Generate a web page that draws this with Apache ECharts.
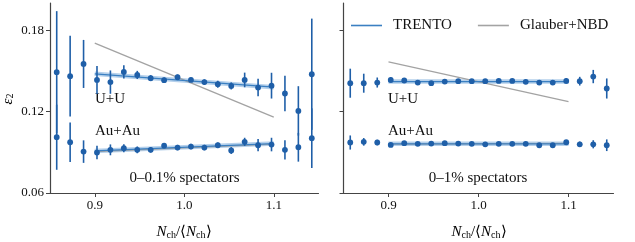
<!DOCTYPE html>
<html>
<head>
<meta charset="utf-8">
<script src="https://cdn.jsdelivr.net/npm/echarts@6/dist/echarts.min.js"></script>
<style>html,body{margin:0;padding:0;background:#fff}#c{width:635px;height:242px}</style>
</head>
<body>
<div id="c"></div>
<script>
// ---- data ----
const binCenters = [0.8575, 0.8725, 0.8875, 0.9025, 0.9175, 0.9325, 0.9475, 0.9625, 0.9775, 0.9925,
                    1.0075, 1.0225, 1.0375, 1.0525, 1.0675, 1.0825, 1.0975, 1.1125, 1.1275, 1.1425];
// left panel: 0-0.1% spectators
const leftUU    = [0.1490, 0.1461, 0.1551, 0.1433, 0.1417, 0.1492, 0.1470, 0.1446, 0.1431, 0.1453,
                   0.1433, 0.1417, 0.1402, 0.1389, 0.1433, 0.1377, 0.1391, 0.1333, 0.1205, 0.1475];
const leftUUErr = [0.0450, 0.0297, 0.0177, 0.0103, 0.0086, 0.0049, 0.0030, 0.0022, 0.0020, 0.0020,
                   0.0016, 0.0020, 0.0026, 0.0026, 0.0054, 0.0065, 0.0095, 0.0131, 0.0182, 0.0410];
const leftAuAu    = [0.1011, 0.0974, 0.0905, 0.0898, 0.0918, 0.0930, 0.0918, 0.0918, 0.0949, 0.0935,
                     0.0942, 0.0935, 0.0952, 0.0913, 0.0977, 0.0952, 0.0957, 0.0918, 0.0937, 0.1004];
const leftAuAuErr = [0.0240, 0.0145, 0.0083, 0.0050, 0.0040, 0.0030, 0.0025, 0.0020, 0.0020, 0.0020,
                     0.0020, 0.0020, 0.0020, 0.0025, 0.0030, 0.0045, 0.0050, 0.0071, 0.0106, 0.0220];
// right panel: 0-1% spectators
const rightUU    = [0.1409, 0.1409, 0.1414, 0.1433, 0.1429, 0.1414, 0.1409, 0.1421, 0.1424, 0.1424,
                    0.1424, 0.1426, 0.1426, 0.1419, 0.1414, 0.1414, 0.1426, 0.1424, 0.1458, 0.1370];
const rightUUErr = [0.0107, 0.0070, 0.0037, 0.0020, 0.0015, 0.0015, 0.0015, 0.0015, 0.0015, 0.0015,
                    0.0015, 0.0015, 0.0015, 0.0015, 0.0015, 0.0015, 0.0020, 0.0032, 0.0049, 0.0074];
const rightAuAu    = [0.0972, 0.0977, 0.0972, 0.0954, 0.0967, 0.0962, 0.0964, 0.0967, 0.0964, 0.0962,
                      0.0959, 0.0962, 0.0962, 0.0962, 0.0952, 0.0952, 0.0974, 0.0959, 0.0959, 0.0952];
const rightAuAuErr = [0.0052, 0.0028, 0.0020, 0.0015, 0.0015, 0.0012, 0.0012, 0.0012, 0.0012, 0.0012,
                      0.0012, 0.0012, 0.0012, 0.0012, 0.0012, 0.0012, 0.0015, 0.0020, 0.0030, 0.0043];
// model lines (endpoints at N/<N> = 0.9 and 1.1)
const modelX = [0.9, 1.1];
const leftTrentoUU = [0.1478, 0.1380];
const leftGlauberUU = [0.1704, 0.1159];
const leftTrentoAuAu = [0.0910, 0.0964];
const leftGlauberAuAu = [0.0905, 0.0960];
const rightTrentoUU = [0.1421, 0.1421];
const rightGlauberUU = [0.1566, 0.1274];
const rightTrentoAuAu = [0.0962, 0.0962];
const rightGlauberAuAu = [0.0960, 0.0965];
const xTicks = [0.9, 1.0, 1.1];
const yTicks = [0.06, 0.12, 0.18];

// ---- styling ----
const FONT = 'Liberation Serif';
const PT = '#1f5fa8';
const LINE = '#3b80c2';
const BAND = 'rgba(90,150,210,0.45)';
const GREY = '#a3a3a3';
const AX = '#444';

function pts(xs, ys, es) { return xs.map((x, i) => [x, ys[i], es[i]]); }
function line(xs, ys) { return xs.map((x, i) => [x, ys[i]]); }

function errSeries(idx, data) {
  return {
    type: 'custom', xAxisIndex: idx, yAxisIndex: idx, z: 10,
    encode: { x: 0, y: 1 },
    data: data,
    renderItem: function (params, api) {
      const x = api.value(0), y = api.value(1), e = api.value(2);
      const a = api.coord([x, y - e]), b = api.coord([x, y + e]), c = api.coord([x, y]);
      return { type: 'group', children: [
        { type: 'line', shape: { x1: a[0], y1: a[1], x2: b[0], y2: b[1] }, style: { stroke: PT, lineWidth: 1.6 } },
        { type: 'circle', shape: { cx: c[0], cy: c[1], r: 2.9 }, style: { fill: PT } }
      ]};
    }
  };
}
function modelSeries(idx, name, data, color, width, z) {
  return { type: 'line', name: name, xAxisIndex: idx, yAxisIndex: idx, data: data, showSymbol: false,
           symbol: 'none', color: color, lineStyle: { color: color, width: width }, z: z, silent: true, animation: false };
}

const grids = [
  { left: 50, top: 3, width: 268.5, height: 190 },
  { left: 343.5, top: 3, width: 270, height: 190 }
];
function xAx(i) {
  return { type: 'value', gridIndex: i, min: 0.85, max: 1.15,
    axisLine: { lineStyle: { color: AX, width: 1.2 } },
    axisTick: { customValues: xTicks, length: 4, lineStyle: { color: AX, width: 1 } },
    axisLabel: { customValues: xTicks, formatter: v => v.toFixed(1), color: '#111', fontFamily: FONT, fontSize: 13, margin: 6 },
    splitLine: { show: false } };
}
function yAx(i) {
  return { type: 'value', gridIndex: i, min: 0.06, max: 0.2,
    axisLine: { show: true, lineStyle: { color: AX, width: 1.2 } },
    axisTick: { show: true, customValues: yTicks, length: 4, lineStyle: { color: AX, width: 1 } },
    axisLabel: { show: i === 0, customValues: yTicks, formatter: v => v.toFixed(2), color: '#111', fontFamily: FONT, fontSize: 13, margin: 6 },
    splitLine: { show: false } };
}

const xlabRich = {
  i: { fontFamily: FONT, fontStyle: 'italic', fontSize: 15, color: '#111', verticalAlign: 'bottom', lineHeight: 18 },
  s: { fontFamily: FONT, fontSize: 10, color: '#111', verticalAlign: 'bottom', lineHeight: 14 },
  n: { fontFamily: FONT, fontSize: 15, color: '#111', verticalAlign: 'bottom', lineHeight: 18 }
};
function txt(x, y, s, align, size) {
  return { type: 'text', x: x, y: y, style: { text: s, fontFamily: FONT, fontSize: size || 15, fill: '#111',
           textAlign: align || 'left', textVerticalAlign: 'middle' } };
}

const option = {
  animation: false,
  grid: grids,
  xAxis: [xAx(0), xAx(1)],
  yAxis: [yAx(0), yAx(1)],
  legend: {
    left: 346, top: 13, icon: 'rect', itemWidth: 31, itemHeight: 1.6, itemGap: 26, selectedMode: false,
    data: ['TRENTO', 'Glauber+NBD'],
    textStyle: { fontFamily: FONT, fontSize: 15, color: '#111', padding: [0, 0, 0, 6] }
  },
  series: [
    // left panel
    modelSeries(0, 'TRENTOband', line(modelX, leftTrentoUU), BAND, 4.5, 2),
    modelSeries(0, 'TRENTOband', line(modelX, leftTrentoAuAu), BAND, 4.5, 2),
    modelSeries(0, 'Glauber+NBD', line(modelX, leftGlauberUU), GREY, 1.3, 3),
    modelSeries(0, 'Glauber+NBD', line(modelX, leftGlauberAuAu), GREY, 1.3, 3),
    modelSeries(0, 'TRENTO', line(modelX, leftTrentoUU), LINE, 1.3, 4),
    modelSeries(0, 'TRENTO', line(modelX, leftTrentoAuAu), LINE, 1.3, 4),
    errSeries(0, pts(binCenters, leftUU, leftUUErr)),
    errSeries(0, pts(binCenters, leftAuAu, leftAuAuErr)),
    // right panel
    modelSeries(1, 'TRENTOband', line(modelX, rightTrentoUU), BAND, 4.5, 2),
    modelSeries(1, 'TRENTOband', line(modelX, rightTrentoAuAu), BAND, 4.5, 2),
    modelSeries(1, 'Glauber+NBD', line(modelX, rightGlauberUU), GREY, 1.3, 3),
    modelSeries(1, 'Glauber+NBD', line(modelX, rightGlauberAuAu), GREY, 1.3, 3),
    modelSeries(1, 'TRENTO', line(modelX, rightTrentoUU), LINE, 1.3, 4),
    modelSeries(1, 'TRENTO', line(modelX, rightTrentoAuAu), LINE, 1.3, 4),
    errSeries(1, pts(binCenters, rightUU, rightUUErr)),
    errSeries(1, pts(binCenters, rightAuAu, rightAuAuErr))
  ],
  graphic: [
    txt(95, 99, 'U+U'), txt(95, 131, 'Au+Au'), txt(184.5, 178, '0–0.1% spectators', 'center'),
    txt(388, 99, 'U+U'), txt(388, 131, 'Au+Au'), txt(478, 178, '0–1% spectators', 'center'),
    { type: 'text', x: 184, y: 231, style: { text: '{i|N}{s|ch}{n|/⟨}{i|N}{s|ch}{n|⟩}', rich: xlabRich, textAlign: 'center', textVerticalAlign: 'middle' } },
    { type: 'text', x: 479, y: 231, style: { text: '{i|N}{s|ch}{n|/⟨}{i|N}{s|ch}{n|⟩}', rich: xlabRich, textAlign: 'center', textVerticalAlign: 'middle' } },
    { type: 'text', x: 7, y: 99, rotation: Math.PI / 2,
      style: { text: '{e|ε}{s|2}', textAlign: 'center', textVerticalAlign: 'middle',
        rich: { e: { fontFamily: FONT, fontStyle: 'italic', fontSize: 15, color: '#111', verticalAlign: 'bottom', lineHeight: 17 },
                s: { fontFamily: FONT, fontSize: 10, color: '#111', verticalAlign: 'bottom', lineHeight: 13 } } } }
  ]
};
const chart = echarts.init(document.getElementById('c'), null, { renderer: 'canvas' });
chart.setOption(option);
</script>
</body>
</html>
